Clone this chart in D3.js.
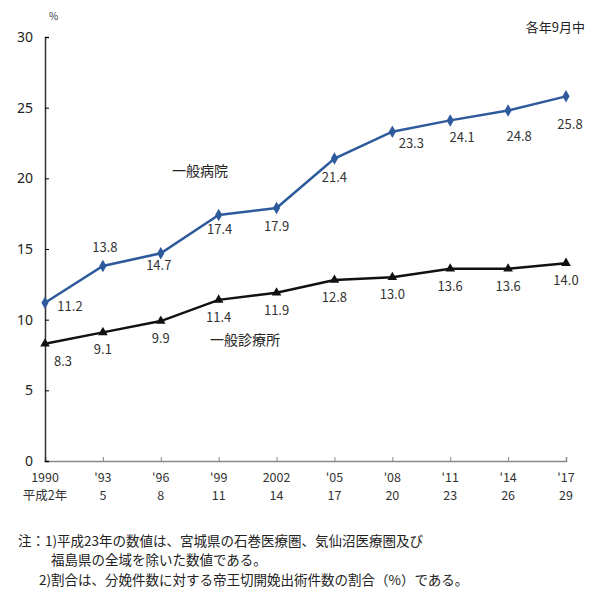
<!DOCTYPE html>
<html>
<head>
<meta charset="utf-8">
<script src="https://cdn.jsdelivr.net/npm/d3@7"></script>
<style>
  body { margin: 0; background: #fff; }
  text { font-family: "Noto Sans CJK JP", "Noto Sans", sans-serif; }
</style>
</head>
<body>
<div id="chart"></div>
<script>
// data
var years = ["1990", "'93", "'96", "'99", "2002", "'05", "'08", "'11", "'14", "'17"];
var heisei = ["平成2年", "5", "8", "11", "14", "17", "20", "23", "26", "29"];
var hospital = [11.2, 13.8, 14.7, 17.4, 17.9, 21.4, 23.3, 24.1, 24.8, 25.8];
var clinic = [8.3, 9.1, 9.9, 11.4, 11.9, 12.8, 13.0, 13.6, 13.6, 14.0];
var yTicks = [0, 5, 10, 15, 20, 25, 30];

// label offsets for hospital values (dx, dy from point)
var hospOff = [[25, 8], [2, -14], [-2, 17], [1, 19], [0, 23], [0, 23], [19, 16], [12, 22], [11, 31], [4, 33]];

var svgWidth = 600, svgHeight = 607;
var margin = { top: 37, left: 45, right: 34, bottom: 146 };
var width = svgWidth - margin.left - margin.right;
var height = svgHeight - margin.top - margin.bottom;

var svg = d3.select("#chart").append("svg")
    .attr("width", svgWidth)
    .attr("height", svgHeight);

var g = svg.append("g")
    .attr("transform", `translate(${margin.left}, ${margin.top})`);

var x = d3.scalePoint().domain(d3.range(years.length)).range([0, width]);
var y = d3.scaleLinear().domain([0, 30]).range([height, 0]);

// x axis
var xAxis = g.append("g")
    .attr("transform", `translate(0, ${height})`)
    .call(d3.axisBottom(x).tickSize(-4).tickFormat(""));
xAxis.select(".domain").attr("stroke", "#888").attr("stroke-width", 1.5);
xAxis.selectAll(".tick line").attr("stroke", "#888");

g.selectAll(".yr").data(years).enter().append("text")
    .attr("x", (d, i) => x(i)).attr("y", height + 21)
    .attr("text-anchor", "middle").attr("font-size", 12.5).attr("fill", "#333")
    .text(d => d);
g.selectAll(".hs").data(heisei).enter().append("text")
    .attr("x", (d, i) => x(i)).attr("y", height + 39)
    .attr("text-anchor", "middle").attr("font-size", 12.5).attr("fill", "#333")
    .text(d => d);

// y axis
var yAxis = g.append("g")
    .call(d3.axisLeft(y).tickValues(yTicks).tickSize(-4).tickPadding(12));
yAxis.select(".domain").attr("stroke", "#333").attr("stroke-width", 1.5);
yAxis.selectAll(".tick text").attr("font-size", 14).attr("fill", "#222")
    .style("font-family", "'Noto Sans', sans-serif");

g.append("text").attr("x", 4).attr("y", -17).attr("font-size", 10).attr("fill", "#333").text("%");
g.append("text").attr("x", 540).attr("y", -5).attr("text-anchor", "end")
    .attr("font-size", 13).attr("fill", "#222").text("各年9月中");

var line = d3.line().x((d, i) => x(i)).y(d => y(d));

// hospital
g.append("path").datum(hospital)
    .attr("fill", "none").attr("stroke", "#2E5A9C").attr("stroke-width", 2.5)
    .attr("d", line);
g.selectAll(".hp").data(hospital).enter().append("path")
    .attr("transform", (d, i) => `translate(${x(i)}, ${y(d)})`)
    .attr("d", d3.symbol().type(d3.symbolDiamond).size(45))
    .attr("fill", "#2E5A9C");
g.selectAll(".hl").data(hospital).enter().append("text")
    .attr("x", (d, i) => x(i) + hospOff[i][0]).attr("y", (d, i) => y(d) + hospOff[i][1])
    .attr("text-anchor", "middle").attr("font-size", 13).attr("fill", "#333")
    .text(d => d.toFixed(1));

// clinic
g.append("path").datum(clinic)
    .attr("fill", "none").attr("stroke", "#111").attr("stroke-width", 2.5)
    .attr("d", line);
g.selectAll(".cp").data(clinic).enter().append("path")
    .attr("transform", (d, i) => `translate(${x(i)}, ${y(d)})`)
    .attr("d", d3.symbol().type(d3.symbolTriangle).size(40))
    .attr("fill", "#111");
g.selectAll(".cl").data(clinic).enter().append("text")
    .attr("x", (d, i) => x(i) + (i == 0 ? 18 : 0)).attr("y", d => y(d) + 22)
    .attr("text-anchor", "middle").attr("font-size", 13).attr("fill", "#333")
    .text(d => d.toFixed(1));

// series labels
g.append("text").attr("x", 155).attr("y", 139).attr("text-anchor", "middle")
    .attr("font-size", 14).attr("fill", "#222").text("一般病院");
g.append("text").attr("x", 200).attr("y", 308).attr("text-anchor", "middle")
    .attr("font-size", 14).attr("fill", "#222").text("一般診療所");

// notes
var notes = svg.append("g").attr("font-size", 13.5).attr("fill", "#222");
notes.append("text").attr("x", 18).attr("y", 546).text("注：1)平成23年の数値は、宮城県の石巻医療圏、気仙沼医療圏及び");
notes.append("text").attr("x", 51).attr("y", 565).text("福島県の全域を除いた数値である。");
notes.append("text").attr("x", 39).attr("y", 585).text("2)割合は、分娩件数に対する帝王切開娩出術件数の割合（%）である。");
</script>
</body>
</html>
